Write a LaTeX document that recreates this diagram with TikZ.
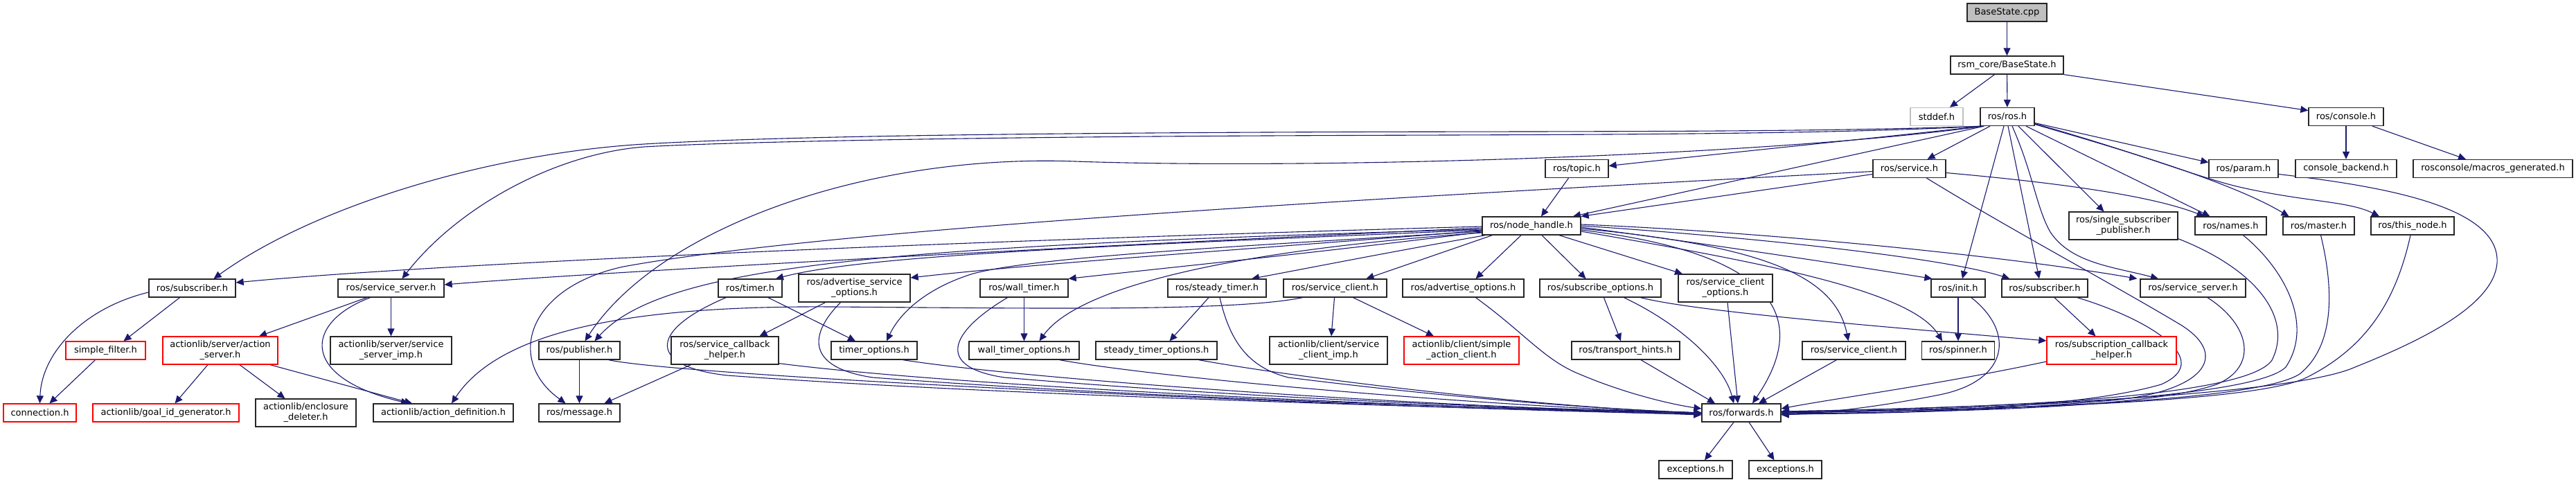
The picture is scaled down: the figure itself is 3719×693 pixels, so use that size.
\documentclass[tikz,border=0pt]{standalone}
\usepackage{fontspec}
\setmainfont{DejaVu Sans}
\usetikzlibrary{arrows.meta,calc}
\definecolor{edgec}{HTML}{191970}
\definecolor{grayfill}{HTML}{BFBFBF}
\pgfdeclarelayer{back}
\pgfdeclarelayer{bg}
\pgfsetlayers{back,bg,main}
\begin{document}
\begin{tikzpicture}[x=1pt,y=-1pt,
  nb/.style={draw=black!85, line width=1.3pt, fill=white, inner sep=0pt, minimum height=26pt, align=center, font=\fontsize{13}{15}\selectfont},
  nb2/.style={nb, minimum height=40pt},
  redb/.style={draw=red},
  grayb/.style={draw=grayfill},
  ed/.style={draw=edgec, line width=1.1pt, -{Triangle[length=11pt,width=10pt]}}]
\begin{pgfonlayer}{back}
\useasboundingbox[fill=white] (0,0) rectangle (3719,693);
\end{pgfonlayer}
% nodes
\node[nb, minimum width=115pt, fill=grayfill] (bscpp) at (2897.5,18) {BaseState.cpp};
\node[nb, minimum width=163pt] (bsh) at (2897.5,94) {rsm\_core/BaseState.h};
\node[nb, grayb, minimum width=76pt] (stddef) at (2796,168.5) {stddef.h};
\node[nb, minimum width=78pt] (ros) at (2898,168.5) {ros/ros.h};
\node[nb, minimum width=108pt] (console) at (3387,168.5) {ros/console.h};
\node[nb, minimum width=105pt] (service) at (2756.5,243.5) {ros/service.h};
\node[nb, minimum width=91pt] (topic) at (2276.5,243.5) {ros/topic.h};
\node[nb, minimum width=100pt] (param) at (3239,243.5) {ros/param.h};
\node[nb, minimum width=146pt] (cback) at (3387,243.5) {console\_backend.h};
\node[nb, minimum width=230pt] (macros) at (3599,243.5) {rosconsole/macros\_generated.h};
\node[nb, minimum width=142pt] (nh) at (2211,326) {ros/node\_handle.h};
\node[nb2, minimum width=157pt] (ssp) at (3065.5,326) {ros/single\_subscriber\\\_publisher.h};
\node[nb, minimum width=103pt] (names) at (3220.5,326) {ros/names.h};
\node[nb, minimum width=103pt] (master) at (3347.5,326) {ros/master.h};
\node[nb, minimum width=120pt] (thisnode) at (3483,326) {ros/this\_node.h};
\node[nb, minimum width=125pt] (subL) at (277.5,416) {ros/subscriber.h};
\node[nb, minimum width=153pt] (ssL) at (564.5,416) {ros/service\_server.h};
\node[nb, minimum width=92pt] (timer) at (1083,416) {ros/timer.h};
\node[nb2, minimum width=161pt] (aso) at (1233.5,416) {ros/advertise\_service\\\_options.h};
\node[nb, minimum width=127pt] (wtimer) at (1478.5,416) {ros/wall\_timer.h};
\node[nb, minimum width=142pt] (stimer) at (1757,416) {ros/steady\_timer.h};
\node[nb, minimum width=149pt] (scL) at (1927.5,416) {ros/service\_client.h};
\node[nb, minimum width=175pt] (ao) at (2112.5,416) {ros/advertise\_options.h};
\node[nb, minimum width=175pt] (so) at (2310.5,416) {ros/subscribe\_options.h};
\node[nb2, minimum width=136pt] (sco) at (2491,416) {ros/service\_client\\\_options.h};
\node[nb, minimum width=78pt] (init) at (2827,416) {ros/init.h};
\node[nb, minimum width=124pt] (subR) at (2952,416) {ros/subscriber.h};
\node[nb, minimum width=152pt] (ssR) at (3166,416) {ros/service\_server.h};
\node[nb, redb, minimum width=115pt] (sfilter) at (152.5,506) {simple\_filter.h};
\node[nb2, redb, minimum width=166pt] (aserver) at (318,506) {actionlib/server/action\\\_server.h};
\node[nb2, minimum width=175pt] (ssimp) at (564.5,506) {actionlib/server/service\\\_server\_imp.h};
\node[nb, minimum width=117pt] (pub) at (836.5,506) {ros/publisher.h};
\node[nb2, minimum width=155pt] (sch) at (1046.5,506) {ros/service\_callback\\\_helper.h};
\node[nb, minimum width=124pt] (topt) at (1262,506) {timer\_options.h};
\node[nb, minimum width=159pt] (wtopt) at (1478.5,506) {wall\_timer\_options.h};
\node[nb, minimum width=175pt] (stopt) at (1669.5,506) {steady\_timer\_options.h};
\node[nb2, minimum width=170pt] (scimp) at (1918,506) {actionlib/client/service\\\_client\_imp.h};
\node[nb2, redb, minimum width=166pt] (sac) at (2110,506) {actionlib/client/simple\\\_action\_client.h};
\node[nb, minimum width=156pt] (th) at (2347,506) {ros/transport\_hints.h};
\node[nb, minimum width=149pt] (scR) at (2676.5,506) {ros/service\_client.h};
\node[nb, minimum width=105pt] (spinner) at (2827,506) {ros/spinner.h};
\node[nb2, redb, minimum width=187pt] (subcb) at (3048.5,506) {ros/subscription\_callback\\\_helper.h};
\node[nb, redb, minimum width=105pt] (conn) at (57.5,596) {connection.h};
\node[nb, redb, minimum width=211pt] (goalid) at (239.5,596) {actionlib/goal\_id\_generator.h};
\node[nb2, minimum width=145pt] (encl) at (441.5,596) {actionlib/enclosure\\\_deleter.h};
\node[nb, minimum width=202pt] (adef) at (640,596) {actionlib/action\_definition.h};
\node[nb, minimum width=117pt] (msg) at (836.5,596) {ros/message.h};
\node[nb, minimum width=114pt] (fwd) at (2514,596) {ros/forwards.h};
\node[nb, minimum width=106pt] (exc1) at (2448,678) {exceptions.h};
\node[nb, minimum width=105pt] (exc2) at (2577.5,678) {exceptions.h};
\begin{pgfonlayer}{bg}
% top edges
\draw[ed] (bscpp) -- (bsh);
\draw[ed] ($(bsh.south)+(-18,0)$) -- ($(stddef.north)+(19,0)$);
\draw[ed] (bsh) -- (ros);
\draw[ed] (bsh.south east) -- ($(console.west)+(0,-9)$);
\draw[ed] (console) -- (cback);
\draw[ed] ($(console.south)+(38,0)$) -- ($(macros.north)+(-39,0)$);
% ros.h
\draw[ed] ($(ros.south)+(-25,0)$) -- ($(service.north)+(26,0)$);
\draw[ed] ($(ros.east)+(0,9)$) -- ($(param.west)+(0,-9)$);
\draw[ed] ($(ros.south)+(27,0)$) -- ($(names.north)+(-30,0)$);
\draw[ed] ($(ros.east)+(0,11)$) .. controls (3060,215) and (3220,262) .. ($(master.north)+(-43,0)$);
\draw[ed] ($(ros.east)+(0,10)$) .. controls (3100,225) and (3170,255) .. (3233,270) .. controls (3330,292) and (3390,290) .. ($(thisnode.north)+(-48,0)$);
\draw[ed] ($(ros.south)+(16,0)$) -- ($(ssp.north)+(-28,0)$);
\draw[ed] ($(ros.south)+(-5,0)$) -- ($(init.north)+(6,0)$);
\draw[ed] ($(ros.south)+(1,0)$) -- ($(subR.north)+(-8,0)$);
\draw[ed] ($(ros.south)+(7,0)$) .. controls (2935,250) and (2940,300) .. (2960,335) .. controls (2990,380) and (3050,385) .. ($(ssR.north)+(-50,0)$);
\draw[ed] ($(ros.south west)+(4,0)$) .. controls (2700,200) and (2500,220) .. ($(topic.east)+(0,-4)$);
\draw[ed] ($(ros.south west)+(6,0)$) -- ($(nh.north)+(60,0)$);
\draw[ed] ($(ros.south west)+(5,0)$) .. controls (2550,225) and (1900,245) .. (1552,233) .. controls (1250,222) and (950,330) .. ($(pub.north)+(8,0)$);
\draw[ed] ($(ros.south west)+(2,0)$) .. controls (2600,192) and (2200,189) .. (1830,191) .. controls (1400,193) and (1100,198) .. (930,208) .. controls (700,222) and (450,300) .. ($(subL.north)+(31,0)$);
\draw[ed] ($(ros.south west)+(3,0)$) .. controls (2600,196) and (2200,194) .. (1830,196) .. controls (1400,198) and (1050,205) .. (930,212) .. controls (800,222) and (660,300) .. ($(ssL.north)+(16,0)$);
% service.h
\draw[ed] ($(service.west)+(0,8)$) -- (nh.north east);
\draw[ed] ($(service.east)+(0,6)$) .. controls (2950,262) and (3100,280) .. ($(names.north)+(-38,0)$);
\draw[ed] ($(service.west)+(0,4)$) .. controls (2000,285) and (1200,330) .. (900,385) .. controls (760,415) and (730,520) .. ($(msg.north)+(-20,0)$);
\draw[ed] ($(service.south)+(25,0)$) .. controls (2900,330) and (3050,410) .. (3150,470) .. controls (3220,515) and (3180,565) .. (3050,578) .. controls (2850,595) and (2700,597) .. ($(fwd.east)+(0,2)$);
\draw[ed] ($(topic.south)+(-12,0)$) -- ($(nh.north)+(14,0)$);
% node_handle.h
\draw[ed] ($(nh.west)+(0,1)$) .. controls (1300,350) and (600,383) .. ($(subL.east)+(0,-8)$);
\draw[ed] ($(nh.west)+(0,3)$) .. controls (1300,368) and (800,398) .. ($(ssL.east)+(0,-5)$);
\draw[ed] ($(nh.west)+(0,5)$) .. controls (1300,355) and (960,380) .. ($(pub.north)+(22,0)$);
\draw[ed] ($(nh.west)+(0,6)$) .. controls (1600,355) and (1250,368) .. ($(timer.north)+(37,0)$);
\draw[ed] ($(nh.west)+(0,7)$) .. controls (1800,360) and (1500,380) .. ($(aso.east)+(0,-15)$);
\draw[ed] ($(nh.west)+(0,8)$) .. controls (1800,355) and (1500,370) .. (1405,395) .. controls (1340,415) and (1300,450) .. ($(topt.north)+(18,0)$);
\draw[ed] ($(nh.west)+(0,9)$) .. controls (1900,365) and (1700,385) .. (wtimer.north east);
\draw[ed] ($(nh.west)+(0,10)$) .. controls (1800,360) and (1560,410) .. ($(wtopt.north)+(22,0)$);
\draw[ed] ($(nh.south west)+(5,0)$) .. controls (2000,365) and (1900,385) .. ($(stimer.north)+(50,0)$);
\draw[ed] ($(nh.south west)+(15,0)$) -- ($(scL.north)+(45,0)$);
\draw[ed] ($(nh.south)+(-15,0)$) -- ($(ao.north)+(18,0)$);
\draw[ed] ($(nh.south)+(15,0)$) -- ($(so.north)+(-21,0)$);
\draw[ed] ($(nh.south)+(40,0)$) -- ($(sco.north)+(-62,0)$);
\draw[ed] ($(nh.east)+(0,6)$) .. controls (2600,370) and (2600,480) .. ($(fwd.north)+(16,0)$);
\draw[ed] ($(nh.east)+(0,4)$) .. controls (2550,355) and (2650,400) .. ($(scR.north)+(-8,0)$);
\draw[ed] ($(nh.east)+(0,2)$) .. controls (2450,350) and (2650,380) .. ($(init.north west)+(2,0)$);
\draw[ed] (nh.east) .. controls (2500,340) and (2800,370) .. ($(subR.north west)+(12,0)$);
\draw[ed] ($(nh.east)+(0,-2)$) .. controls (2550,335) and (2900,370) .. ($(ssR.north west)+(-4,0)$);
\draw[ed] ($(nh.east)+(0,8)$) .. controls (2550,380) and (2760,420) .. ($(spinner.north)+(-23,0)$);
% right side into forwards
\draw[ed] ($(ssp.south east)+(0,-2)$) .. controls (3260,390) and (3310,460) .. (3280,520) .. controls (3240,580) and (2800,590) .. ($(fwd.east)+(0,-2)$);
\draw[ed] ($(names.south)+(18,0)$) .. controls (3300,390) and (3340,470) .. (3300,530) .. controls (3250,580) and (2800,592) .. ($(fwd.east)+(0,-1)$);
\draw[ed] ($(master.south)+(3,0)$) .. controls (3370,420) and (3370,500) .. (3320,540) .. controls (3250,585) and (2800,592) .. (fwd.east);
\draw[ed] ($(thisnode.south)+(-3,0)$) .. controls (3460,430) and (3420,500) .. (3330,545) .. controls (3250,585) and (2800,592) .. (fwd.east);
\draw[ed] ($(param.east)+(0,8)$) .. controls (3450,270) and (3610,300) .. (3605,380) .. controls (3600,440) and (3500,490) .. (3400,530) .. controls (3300,575) and (2800,590) .. ($(fwd.east)+(0,-2)$);
\draw[ed] ($(ssR.south)+(21,0)$) .. controls (3250,470) and (3260,530) .. (3200,555) .. controls (3100,590) and (2800,595) .. ($(fwd.east)+(0,1)$);
\draw[ed] ($(subR.south)+(47,0)$) .. controls (3100,460) and (3200,520) .. (3120,555) .. controls (3000,590) and (2750,596) .. ($(fwd.east)+(0,2)$);
\draw[ed] ($(subR.south)+(14,0)$) -- ($(subcb.north)+(-23,0)$);
\draw[ed] ($(subcb.west)+(0,16)$) .. controls (2800,555) and (2650,575) .. ($(fwd.east)+(0,-6)$);
\draw[ed] (init) -- (spinner);
\draw[ed] ($(init.south)+(19,0)$) .. controls (2910,480) and (2900,550) .. (2800,570) .. controls (2700,590) and (2620,597) .. ($(fwd.east)+(0,3)$);
\draw[ed] ($(scR.south)+(-25,0)$) -- ($(fwd.north)+(25,0)$);
\draw[ed] ($(th.south)+(22,0)$) -- ($(fwd.north)+(-38,0)$);
\draw[ed] ($(so.south)+(5,0)$) -- ($(th.north)+(-7,0)$);
\draw[ed] ($(so.south)+(34,0)$) .. controls (2430,470) and (2490,530) .. ($(fwd.north)+(-11,0)$);
\draw[ed] ($(so.south)+(58,0)$) .. controls (2450,450) and (2700,470) .. ($(subcb.west)+(0,-14)$);
\draw[ed] ($(sco.south)+(3,0)$) -- ($(fwd.north)+(-5,0)$);
\draw[ed] ($(ao.south)+(18,0)$) .. controls (2200,480) and (2230,520) .. (2280,540) .. controls (2350,570) and (2420,585) .. ($(fwd.west)+(0,-6)$);
\draw[ed] ($(scL.south)+(-1,0)$) -- ($(scimp.north)+(4,0)$);
\draw[ed] ($(scL.south)+(26,0)$) -- ($(sac.north)+(-40,0)$);
\draw[ed] ($(scL.south)+(-47,0)$) .. controls (1780,450) and (1500,445) .. (1200,443) .. controls (900,441) and (720,480) .. ($(adef.north)+(12,0)$);
% left side
\draw[ed] ($(subL.south)+(-18,0)$) -- ($(sfilter.north)+(26,0)$);
\draw[ed] ($(subL.west)+(0,6)$) .. controls (120,445) and (60,510) .. (conn.north);
\draw[ed] ($(sfilter.south)+(-15,0)$) -- ($(conn.north)+(14,0)$);
\draw[ed] ($(ssL.south)+(-35,0)$) -- ($(aserver.north)+(56,0)$);
\draw[ed] (ssL) -- (ssimp);
\draw[ed] ($(ssL.south)+(-30,0)$) .. controls (440,465) and (430,545) .. ($(adef.north)+(-50,0)$);
\draw[ed] ($(aserver.south)+(-18,0)$) -- ($(goalid.north)+(13,0)$);
\draw[ed] ($(aserver.south)+(28,0)$) -- ($(encl.north)+(-30,0)$);
\draw[ed] ($(aserver.south)+(72,0)$) -- ($(adef.north)+(-45,0)$);
\draw[ed] (pub) -- (msg);
\draw[ed] ($(pub.south east)+(-17,0)$) .. controls (1000,545) and (2000,590) .. ($(fwd.west)+(0,2)$);
\draw[ed] ($(sch.south west)+(29,0)$) -- ($(msg.north)+(36,0)$);
\draw[ed] ($(sch.south east)+(0,-2)$) .. controls (1400,560) and (2100,590) .. ($(fwd.west)+(0,1)$);
\draw[ed] ($(aso.south)+(-42,0)$) -- ($(sch.north)+(50,0)$);
\draw[ed] ($(aso.south)+(-20,0)$) .. controls (1170,480) and (1160,530) .. (1260,545) .. controls (1700,578) and (2200,590) .. (fwd.west);
\draw[ed] ($(timer.south)+(26,0)$) -- ($(topt.north)+(-27,0)$);
\draw[ed] ($(timer.south)+(-35,0)$) .. controls (930,480) and (940,530) .. (1050,542) .. controls (1500,575) and (2200,590) .. ($(fwd.west)+(0,3)$);
\draw[ed] ($(topt.south east)+(-21,0)$) .. controls (1500,550) and (2100,590) .. (fwd.west);
\draw[ed] (wtimer) -- (wtopt);
\draw[ed] ($(wtimer.south)+(-24,0)$) .. controls (1370,480) and (1350,530) .. (1450,545) .. controls (1800,575) and (2200,590) .. (fwd.west);
\draw[ed] ($(wtopt.south east)+(-29,0)$) .. controls (1700,550) and (2200,590) .. (fwd.west);
\draw[ed] ($(stimer.south)+(-12,0)$) -- ($(stopt.north)+(19,0)$);
\draw[ed] ($(stimer.south)+(4,0)$) .. controls (1775,490) and (1800,530) .. (1860,545) .. controls (2100,575) and (2300,590) .. (fwd.west);
\draw[ed] ($(stopt.south east)+(-27,0)$) .. controls (1900,550) and (2250,590) .. (fwd.west);
\draw[ed] ($(fwd.south)+(-11,0)$) -- ($(exc1.north)+(13,0)$);
\draw[ed] ($(fwd.south)+(11,0)$) -- ($(exc2.north)+(-16,0)$);
\end{pgfonlayer}
\end{tikzpicture}
\end{document}
